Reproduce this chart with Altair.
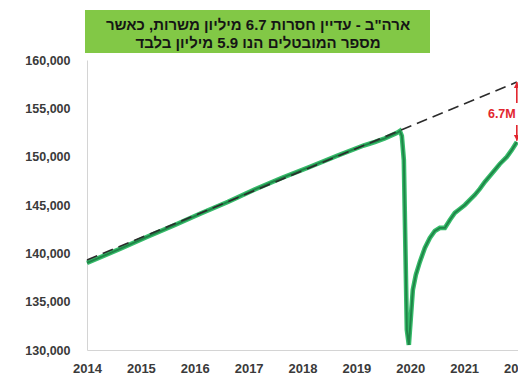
import altair as alt
import pandas as pd

# --- data (thousands of jobs) ---
t_jobs = [2014.000, 2014.612, 2015.113, 2015.614, 2016.115, 2016.616, 2017.117, 2017.618,
          2018.137, 2018.638, 2019.139, 2019.343, 2019.529, 2019.751, 2019.807,
          2019.844, 2019.881, 2019.937, 2019.974, 2020.048, 2020.104, 2020.178, 2020.271,
          2020.364, 2020.456, 2020.549, 2020.642, 2020.735, 2020.827, 2020.920, 2021.013,
          2021.106, 2021.198, 2021.291, 2021.384, 2021.477, 2021.570, 2021.662, 2021.792,
          2021.885, 2021.978]
jobs = [139010, 140457, 141698, 142887, 144128, 145317, 146610, 147799,
        148936, 150074, 151159, 151521, 151883, 152452, 152659,
        152142, 149660, 132082, 130531, 136218, 137769, 139113, 140559,
        141595, 142319, 142629, 142629, 143456, 144180, 144593, 145007,
        145524, 146041, 146661, 147385, 148006, 148626, 149246, 149970,
        150694, 151521]

t_trend = [2014.0, 2021.978]
trend = [139320, 157720]

arrow_t = 2021.978
arrow_top = [157720, 155550]
arrow_bottom = [153280, 151640]
gap_label = "6.7M"
gap_label_pos = (2021.70, 154420)

x_ticks = list(range(2014, 2023))
y_ticks = list(range(130000, 160001, 5000))

title_lines = ['ארה"ב - עדיין חסרות 6.7 מיליון משרות, כאשר',
               'מספר המובטלים הנו 5.9 מיליון בלבד']

FONT = "Liberation Sans"

df = pd.DataFrame({"t": t_jobs, "v": jobs})
df_tr = pd.DataFrame({"t": t_trend, "v": trend})

xs = alt.Scale(domain=[2014, 2022.0], nice=False, zero=False)
ys = alt.Scale(domain=[130000, 160000], nice=False, zero=False)

X = alt.X("t:Q", scale=xs,
          axis=alt.Axis(values=x_ticks, format="d", title=None, labelPadding=12,
                        labelFontSize=13, labelFlush=False))
Y = alt.Y("v:Q", scale=ys,
          axis=alt.Axis(values=y_ticks, format=",.0f", title=None, labelPadding=17,
                        labelFontSize=12.5))

outer = alt.Chart(df).mark_line(color="#36bb6a", strokeWidth=4.6).encode(x=X, y=Y)
inner = alt.Chart(df).mark_line(color="#1f8447", strokeWidth=1.9).encode(x="t:Q", y="v:Q")
dashed = alt.Chart(df_tr).mark_line(color="#2b2b2b", strokeWidth=1.6,
                                   strokeDash=[11, 6]).encode(x="t:Q", y="v:Q")

RED = "#e2262f"
arr_df = pd.DataFrame({"t": [arrow_t, arrow_t], "v": [arrow_top[0], arrow_bottom[0]],
                       "v2": [arrow_top[1], arrow_bottom[1]]})
arr = alt.Chart(arr_df).mark_rule(color=RED, strokeWidth=1.6).encode(x="t:Q", y="v:Q", y2="v2:Q")
up = alt.Chart(pd.DataFrame({"t": [arrow_t], "v": [arrow_top[0]]})).mark_point(
    shape="M0,0L-0.7,1.4L0.7,1.4Z", filled=True, color=RED, opacity=1, size=70
).encode(x="t:Q", y="v:Q")
down = alt.Chart(pd.DataFrame({"t": [arrow_t], "v": [arrow_bottom[1]]})).mark_point(
    shape="M0,0L-0.7,-1.4L0.7,-1.4Z", filled=True, color=RED, opacity=1, size=70
).encode(x="t:Q", y="v:Q")
lab = alt.Chart(pd.DataFrame({"t": [gap_label_pos[0]], "v": [gap_label_pos[1]], "s": [gap_label]})).mark_text(
    color=RED, font=FONT, fontWeight="bold", fontSize=12.5
).encode(x="t:Q", y="v:Q", text="s:N")

box = alt.Chart(pd.DataFrame({"a": [0]})).mark_rect(color="#82c846").encode(
    x=alt.value(-2), x2=alt.value(343), y=alt.value(-50), y2=alt.value(-7))
ttl1 = alt.Chart(pd.DataFrame({"s": [title_lines[0]]})).mark_text(
    font=FONT, fontWeight="bold", fontSize=15, color="#151515", align="center", baseline="middle"
).encode(x=alt.value(171), y=alt.value(-35), text="s:N")
ttl2 = alt.Chart(pd.DataFrame({"s": [title_lines[1]]})).mark_text(
    font=FONT, fontWeight="bold", fontSize=15, color="#151515", align="center", baseline="middle"
).encode(x=alt.value(171), y=alt.value(-17), text="s:N")

chart = alt.layer(outer, inner, dashed, arr, up, down, lab, box, ttl1, ttl2).properties(
    width=431, height=290,
    autosize=alt.AutoSizeParams(type="none"),
    padding={"left": 79, "top": 52, "right": 0, "bottom": 26},
    background="white",
).configure_view(stroke=None).configure_axis(
    grid=False, ticks=False, domainColor="#d4d4d4", domainWidth=1,
    labelFont=FONT, labelFontWeight="bold", labelColor="#3a3a3a"
)

chart.save("out.html", embed_options={"renderer": "svg", "actions": False})
